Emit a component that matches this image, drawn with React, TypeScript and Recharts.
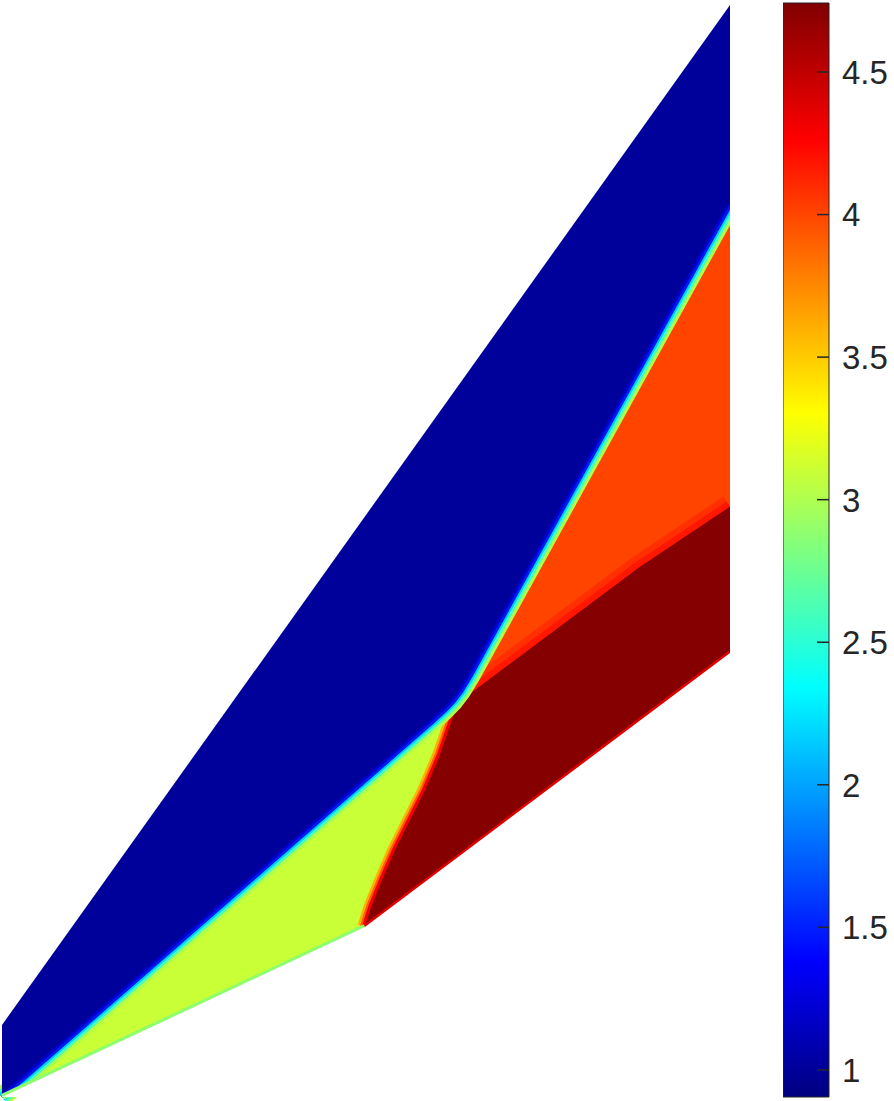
import React from 'react';
import { ComposedChart, Area, XAxis, YAxis, BarChart, Bar } from 'recharts';

// domain outline (x, y in flow units)
const topEdge = [
  { x: 0, y: 0.198 },
  { x: 2, y: 3.0 },
];
const bottomWall = [
  { x: 0, y: 0 },
  { x: 0.997, y: 0.467 },
  { x: 2, y: 1.22 },
];

// oblique shock, bends at the triple point
const shockFront = [
  { x: 0, y: 0 },
  { x: 1.18, y: 1.03 },
  { x: 1.215, y: 1.062 },
  { x: 1.24, y: 1.088 },
  { x: 1.262, y: 1.117 },
  { x: 1.285, y: 1.155 },
  { x: 2, y: 2.452 },
];

// curved wave from the ramp corner up to the triple point
const contactLine = [
  { x: 0.997, y: 0.467 },
  { x: 1.006, y: 0.497 },
  { x: 1.016, y: 0.527 },
  { x: 1.044, y: 0.596 },
  { x: 1.08, y: 0.679 },
  { x: 1.121, y: 0.761 },
  { x: 1.162, y: 0.843 },
  { x: 1.203, y: 0.94 },
  { x: 1.236, y: 1.036 },
  { x: 1.255, y: 1.085 },
];
const slipLine = [
  { x: 1.255, y: 1.085 },
  { x: 1.75, y: 1.455 },
  { x: 2, y: 1.622 },
];

const colorRange = [0.905, 4.742];
const colorTicks = [1, 1.5, 2, 2.5, 3, 3.5, 4, 4.5];
const colorBar = [{ name: 'rho', range: colorRange }];

const BLUE = '#00009a';
const YELLOW = '#c9ff36';
const ORANGE = '#ff4400';
const DARKRED = '#850000';

const ColorTick = (props: any) => {
  const { x, y, payload } = props;
  return (
    <g>
      <line x1={x - 25} x2={x - 13} y1={y} y2={y} stroke="#262626" strokeWidth={1.5} />
      <text x={x} y={y} dy="0.36em" textAnchor="start" fontSize={33} fill="#262626">
        {payload.value}
      </text>
    </g>
  );
};

const band = (data: any[], color: string, width: number, opacity = 1) => (
  <Area
    data={data}
    dataKey="y"
    type="linear"
    fill="none"
    stroke={color}
    strokeWidth={width}
    strokeOpacity={opacity}
    strokeLinejoin="round"
    isAnimationActive={false}
  />
);

const region = (data: any[], color: string, baseValue?: any) => (
  <Area
    data={data}
    dataKey="y"
    type="linear"
    fill={color}
    fillOpacity={1}
    stroke="none"
    baseValue={baseValue}
    isAnimationActive={false}
  />
);

export default function App() {
  return (
    <div
      style={{
        position: 'absolute',
        left: 0,
        top: 0,
        width: 894,
        height: 1101,
        background: '#fff',
        fontFamily: 'Liberation Sans, Arial, sans-serif',
      }}
    >
      <div style={{ position: 'absolute', left: 0, top: 0 }}>
        <ComposedChart width={730} height={1101} margin={{ top: 5, right: 0, bottom: 4, left: 2 }}>
          <XAxis dataKey="x" type="number" domain={[0, 2]} hide />
          <YAxis type="number" domain={[0, 3]} hide />
          {region(shockFront, YELLOW)}
          {region(shockFront.filter((p) => p.x >= 1.24), ORANGE)}
          {band(contactLine, '#ffb000', 15)}
          {band(contactLine, '#ff5a00', 10)}
          {band(contactLine, '#f00000', 6)}
          {band(slipLine, '#ff0000', 24, 0.3)}
          {band(slipLine, '#ff0000', 12, 0.5)}
          {region([...contactLine, ...slipLine.slice(1)], DARKRED)}
          {band(shockFront, '#b0ff48', 20)}
          {band(shockFront, '#40ffc0', 14)}
          {band(shockFront, '#00d0ff', 9)}
          {band(shockFront, '#0060ff', 5)}
          {region(shockFront, BLUE, 'dataMax')}
          {band(shockFront, '#0000e8', 5, 0.7)}
          {band(bottomWall.slice(1), '#e00000', 5)}
          {band(bottomWall.slice(0, 2), '#8cff6a', 6)}
          {region(bottomWall, '#ffffff')}
          {region(topEdge, '#ffffff', 'dataMax')}
        </ComposedChart>
      </div>
      <div style={{ position: 'absolute', left: 783, top: 0 }}>
        <BarChart
          width={111}
          height={1101}
          data={colorBar}
          margin={{ top: 3, right: 0, bottom: 4, left: 0 }}
          barCategoryGap={0}
        >
          <defs>
            <linearGradient id="jet" x1="0" y1="1" x2="0" y2="0">
              <stop offset="0" stopColor="#000080" />
              <stop offset="0.125" stopColor="#0000ff" />
              <stop offset="0.375" stopColor="#00ffff" />
              <stop offset="0.625" stopColor="#ffff00" />
              <stop offset="0.875" stopColor="#ff0000" />
              <stop offset="1" stopColor="#800000" />
            </linearGradient>
          </defs>
          <XAxis dataKey="name" hide />
          <YAxis
            orientation="right"
            type="number"
            domain={colorRange}
            ticks={colorTicks}
            width={65}
            axisLine={false}
            tickLine={false}
            tickSize={0}
            tickMargin={13}
            tick={<ColorTick />}
          />
          <Bar dataKey="range" fill="url(#jet)" stroke="#262626" strokeWidth={1} isAnimationActive={false} />
        </BarChart>
      </div>
    </div>
  );
}
